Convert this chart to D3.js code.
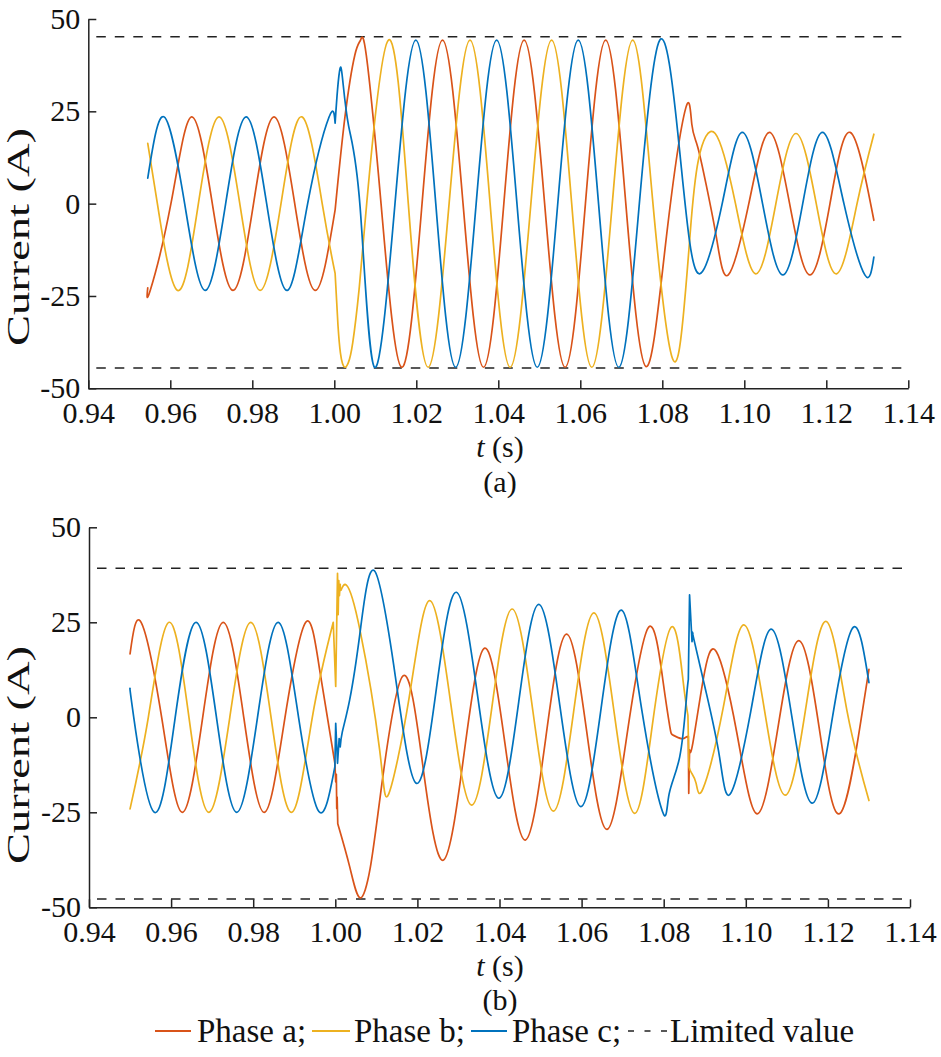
<!DOCTYPE html>
<html><head><meta charset="utf-8">
<script src="https://cdn.jsdelivr.net/npm/d3@7"></script>
<style>body{margin:0;background:#fff;} svg{display:block;} svg text{font-family:'Liberation Serif','Times New Roman','DejaVu Serif',serif;}</style>
</head><body><svg id="chart" width="941" height="1057"></svg>
<script>
// ---- data: [t (s), current (A), kink flag] ----
const aPhaseA = [
[0.9545,-22.8],[0.9551,-23.5],[0.96015,0],[0.9652,23.5],[0.97025,0],[0.9753,-23.5],[0.9803,0],[0.9853,23.5],[0.99035,0],[0.9953,-23.5],
[1.0002,-1.7,1],[1.0026,23.5],[1.0050,40.2],[1.0064,44.3],[1.0078,40.2],[1.0114,0],[1.0164,-44.3],[1.0214,0],[1.0264,44.3],[1.0314,0],[1.0364,-44.3],[1.04135,0],
[1.0463,44.3],[1.0513,0],[1.0563,-44.3],[1.06125,0],[1.0662,44.3],[1.0711,0],[1.0760,-44.1],[1.0810,-9],[1.0857,25.8],[1.0872,21.5],
[1.0886,15.5],[1.0908,4.6],[1.0933,-9.8],[1.0961,-19.3],[1.1011,0],[1.1061,19.3],[1.11105,0],[1.1160,-19.3],[1.1209,0],[1.1258,19.3],[1.1316,-4.5]
];
const aPhaseB = [
[0.9545,16.3],[0.95685,0],[0.9618,-23.5],[0.96685,0],[0.9719,23.5],[0.97695,0],[0.9819,-23.5],[0.98700,0],[0.9921,23.5],[0.99705,0],
[1.0002,-18.9,1],[1.0009,-33],[1.0015,-40.5],[1.0020,-43.3],[1.0026,-44.3],[1.0034,-43.1],[1.0045,-37.6],[1.0060,-23.7],[1.0079,0],[1.0132,44.3],[1.01805,0],[1.0229,-44.3],[1.0280,0],[1.0331,44.3],[1.0380,0],
[1.0429,-44.3],[1.04795,0],[1.0530,44.3],[1.0579,0],[1.0628,-44.3],[1.0678,0],[1.0728,44.3],[1.0776,1.5],[1.0823,-41.3],[1.0851,-30.6],
[1.0868,-8],[1.0888,11.8],[1.0929,19],[1.09785,0],[1.1028,-19],[1.1077,0],[1.1126,19],[1.11755,0],[1.1225,-19],[1.1275,0],[1.1316,18.8]
];
const aPhaseC = [
[0.9545,6.9],[0.9585,23.5],[0.9635,0],[0.9685,-23.5],[0.9735,0],[0.9785,23.5],[0.9835,0],[0.9885,-23.5],[0.9935,0],[0.9987,23.4],
[1.0002,21.8,1],[1.0008,31],[1.0014,36.6],[1.0020,34],[1.0035,21],[1.0063,-1],[1.0098,-44.3],[1.0148,0],[1.0199,44.3],[1.02475,0],
[1.0296,-44.3],[1.0346,0],[1.0396,44.3],[1.04455,0],[1.0495,-44.3],[1.0545,0],[1.0595,44.3],[1.06445,0],[1.0694,-44.3],[1.0744,0],
[1.0794,44.3],[1.0837,20],[1.0866,-9.8],[1.0898,-18.4],[1.0947,0.5],[1.0995,19.3],[1.10445,0],[1.1094,-19.3],[1.11425,0],[1.1191,19.3],
[1.1243,0],[1.1294,-19.3],[1.1316,-14.5]
];
const bPhaseA = [
[0.9500,16.7],[0.9527,25],[0.9577,0],[0.9627,-25],[0.9677,0],[0.9727,25],[0.9777,0],[0.9827,-25],[0.98775,0],[0.9928,25],[0.9962,12.4],
[0.9999,-12.1,1],[1.0001,-17,1],[1.00025,-15,1],[1.00035,-24,1],[1.00045,-21,1],[1.0006,-28,1],[1.0035,-39.3],[1.0060,-47.5],[1.0085,-39.7],
[1.01125,-18.3],[1.0165,10.9],[1.0214,-13.35],[1.0263,-37.6],[1.03135,-9.7],[1.0364,18.2],[1.04135,-7.05],[1.0463,-32.3],[1.0513,-5.2],[1.0563,21.9],
[1.06125,-3.8],[1.0662,-29.5],[1.0713,-2.85],[1.0764,23.8],[1.0798,9.8],[1.0815,-2.5],[1.0823,-4.7],[1.0843,-5.6],[1.0855,-5.2],
[1.0860,-5.0,1],[1.0861,-20,1],[1.0863,-8.6,1],[1.0871,-6.8],[1.0896,9.8],[1.0928,17.3],[1.0978,-4],[1.1028,-25.4],[1.10785,-2.6],
[1.1129,20.2],[1.11785,-2.6],[1.1228,-25.4],[1.1278,-2.5],[1.1300,12.6]
];
const bPhaseB = [
[0.9500,-24.1],[0.95445,0],[0.9595,25],[0.96435,0],[0.9692,-25],[0.9743,0],[0.9794,25],[0.98435,0],[0.9894,-25],[0.9944,0],
[0.9995,25,1],[1.0001,8.1,1],[1.00054,37.9,1],[1.0007,27,1],[1.00085,36,1],[1.0010,32,1],[1.0012,35,1],[1.0014,33.5],[1.0027,34.8],
[1.0060,23],[1.0108,-8.6],[1.0130,-20.2],[1.0180,5.25],[1.0230,30.7],[1.0281,3.8],[1.0332,-23.1],[1.03815,2.7],[1.0431,28.5],[1.0481,1.9],
[1.0531,-24.7],[1.05805,1.4],[1.0630,27.5],[1.06795,1.1],[1.0729,-25.3],[1.0774,-0.75],[1.0819,23.8],[1.0847,9.8],[1.0859,0.5,1],
[1.08615,-13,1],[1.0867,-14.5],[1.0879,-17.4],[1.0896,-18.7],[1.09455,2.8],[1.0995,24.3],[1.10455,1.9],[1.1096,-20.5],[1.1146,2.35],
[1.1196,25.2],[1.12465,1.7],[1.1300,-21.9]
];
const bPhaseC = [
[0.9500,7.6],[0.9509,0],[0.9559,-25],[0.9610,0],[0.9661,25],[0.97105,0],[0.9760,-25],[0.98105,0],[0.9861,25],[0.99105,0],[0.9960,-24.8],
[0.9999,-13,1],[1.0001,-1.6,1],[1.00054,-12.1,1],[1.00094,-5.6,1],[1.0012,-7.8,1],[1.0017,-3.9],[1.0035,4.6],[1.0060,22.1],[1.0095,38.6],
[1.01465,10.6],[1.0198,-17.4],[1.02465,7.75],[1.0295,32.9],[1.03465,5.8],[1.0398,-21.3],[1.0447,4.2],[1.0496,29.7],[1.0547,3.1],
[1.0598,-23.5],[1.06475,2.35],[1.0697,28.2],[1.0747,1.7],[1.0797,-24.8],[1.0813,-20.3],[1.0839,-10.4],[1.0855,4.6],[1.0860,10,1],
[1.0863,32.2,1],[1.0869,19.9,1],[1.0871,22.1,1],[1.0874,20.3],[1.0904,6.3],[1.0936,-10.4],[1.0962,-20.2],[1.1012,1.5],[1.1062,23.2],
[1.1112,0.3],[1.1162,-22.6],[1.1212,0.55],[1.1262,23.7],[1.1300,9.1]
];
const limitsA = [45.2, -44.5];
const limitsB = [39.2, -47.8];
const xTicks = [0.94,0.96,0.98,1.00,1.02,1.04,1.06,1.08,1.10,1.12,1.14];
const yTicks = [-50,-25,0,25,50];
const seriesNames = ["Phase a;","Phase b;","Phase c;"];
const limitName = "Limited value";
const panelTags = ["(a)","(b)"];
const yTitle = "Current (A)";

// ---- styling / layout ----
const colors = ["#D95319","#EDB120","#0072BD"];
const FONT = "'Liberation Serif','Times New Roman','DejaVu Serif',serif";
const layout = [
  {left:88.3, right:908.3, top:19, bottom:388.3, ylabY:237, xlabY:457, tagY:492},
  {left:89, right:910, top:527.3, bottom:907.3, ylabY:755, xlabY:976, tagY:1010}
];
const panels = [
  {series:[aPhaseA,aPhaseB,aPhaseC], limits:limitsA, tag:panelTags[0]},
  {series:[bPhaseA,bPhaseB,bPhaseC], limits:limitsB, tag:panelTags[1]}
];

const svg = d3.select("#chart");

function split(pts){
  const segs=[]; let cur=[];
  pts.forEach(p=>{ cur.push(p); if(p[2]){ if(cur.length>1) segs.push(cur); cur=[p]; } });
  if(cur.length>1) segs.push(cur);
  return segs;
}

panels.forEach((p,i)=>{
  const L = layout[i];
  const x = d3.scaleLinear().domain([0.94,1.14]).range([L.left,L.right]);
  const y = d3.scaleLinear().domain([-50,50]).range([L.bottom,L.top]);
  const g = svg.append("g");

  p.limits.forEach(v=>{
    g.append("line").attr("x1",x(0.94)).attr("x2",x(1.14)).attr("y1",y(v)).attr("y2",y(v))
      .attr("stroke","#222").attr("stroke-width",1.5).attr("stroke-dasharray","9.5,9").attr("stroke-dashoffset",-8);
  });

  const line = d3.line().x(d=>x(d[0])).y(d=>y(d[1])).curve(d3.curveNatural);
  p.series.forEach((s,k)=>{
    g.append("path").attr("d", split(s).map(seg=>line(seg)).join(""))
      .attr("fill","none").attr("stroke",colors[k]).attr("stroke-width",1.7)
      .attr("stroke-linejoin","round").attr("stroke-linecap","round");
  });

  const xa = g.append("g").attr("transform",`translate(0,${L.bottom})`)
    .call(d3.axisBottom(x).tickValues(xTicks).tickFormat(d3.format(".2f")).tickSizeInner(-8).tickSizeOuter(0).tickPadding(13));
  const ya = g.append("g").attr("transform",`translate(${L.left},0)`)
    .call(d3.axisLeft(y).tickValues(yTicks).tickFormat(d=>String(d)).tickSizeInner(-8).tickSizeOuter(0).tickPadding(8));
  [xa,ya].forEach(a=>{
    a.attr("font-family",FONT).attr("font-size",30);
    a.selectAll("path,line").attr("stroke","#222").attr("stroke-width",1.5);
    a.selectAll("text").attr("fill","#111").style("font-family",FONT);
  });

  const xt = g.append("text").attr("x",500).attr("y",L.xlabY).attr("text-anchor","middle")
    .style("font-family",FONT).attr("font-size",30).attr("fill","#111");
  xt.append("tspan").attr("font-style","italic").text("t");
  xt.append("tspan").text(" (s)");
  g.append("text").attr("x",500).attr("y",L.tagY).attr("text-anchor","middle")
    .style("font-family",FONT).attr("font-size",30).attr("fill","#111").text(p.tag);
  g.append("text").attr("transform",`translate(29,${L.ylabY}) rotate(-90)`).attr("text-anchor","middle")
    .style("font-family",FONT).attr("font-size",31).attr("fill","#111")
    .attr("textLength",218).attr("lengthAdjust","spacingAndGlyphs").text(yTitle);
});

const lg = svg.append("g").attr("font-size",33).attr("fill","#111");
const legY = 1042, legLineY = 1031;
const items = [
  {x1:155,x2:191,tx:197,color:colors[0],label:seriesNames[0]},
  {x1:312,x2:350,tx:354,color:colors[1],label:seriesNames[1]},
  {x1:471,x2:507,tx:512,color:colors[2],label:seriesNames[2]}
];
items.forEach(it=>{
  lg.append("line").attr("x1",it.x1).attr("x2",it.x2).attr("y1",legLineY).attr("y2",legLineY)
    .attr("stroke",it.color).attr("stroke-width",2);
  lg.append("text").attr("x",it.tx).attr("y",legY).style("font-family",FONT).text(it.label);
});
lg.append("line").attr("x1",628).attr("x2",667).attr("y1",legLineY).attr("y2",legLineY)
  .attr("stroke","#222").attr("stroke-width",1.5).attr("stroke-dasharray","6,10.5");
lg.append("text").attr("x",670).attr("y",legY).style("font-family",FONT).text(limitName);
</script></body></html>
